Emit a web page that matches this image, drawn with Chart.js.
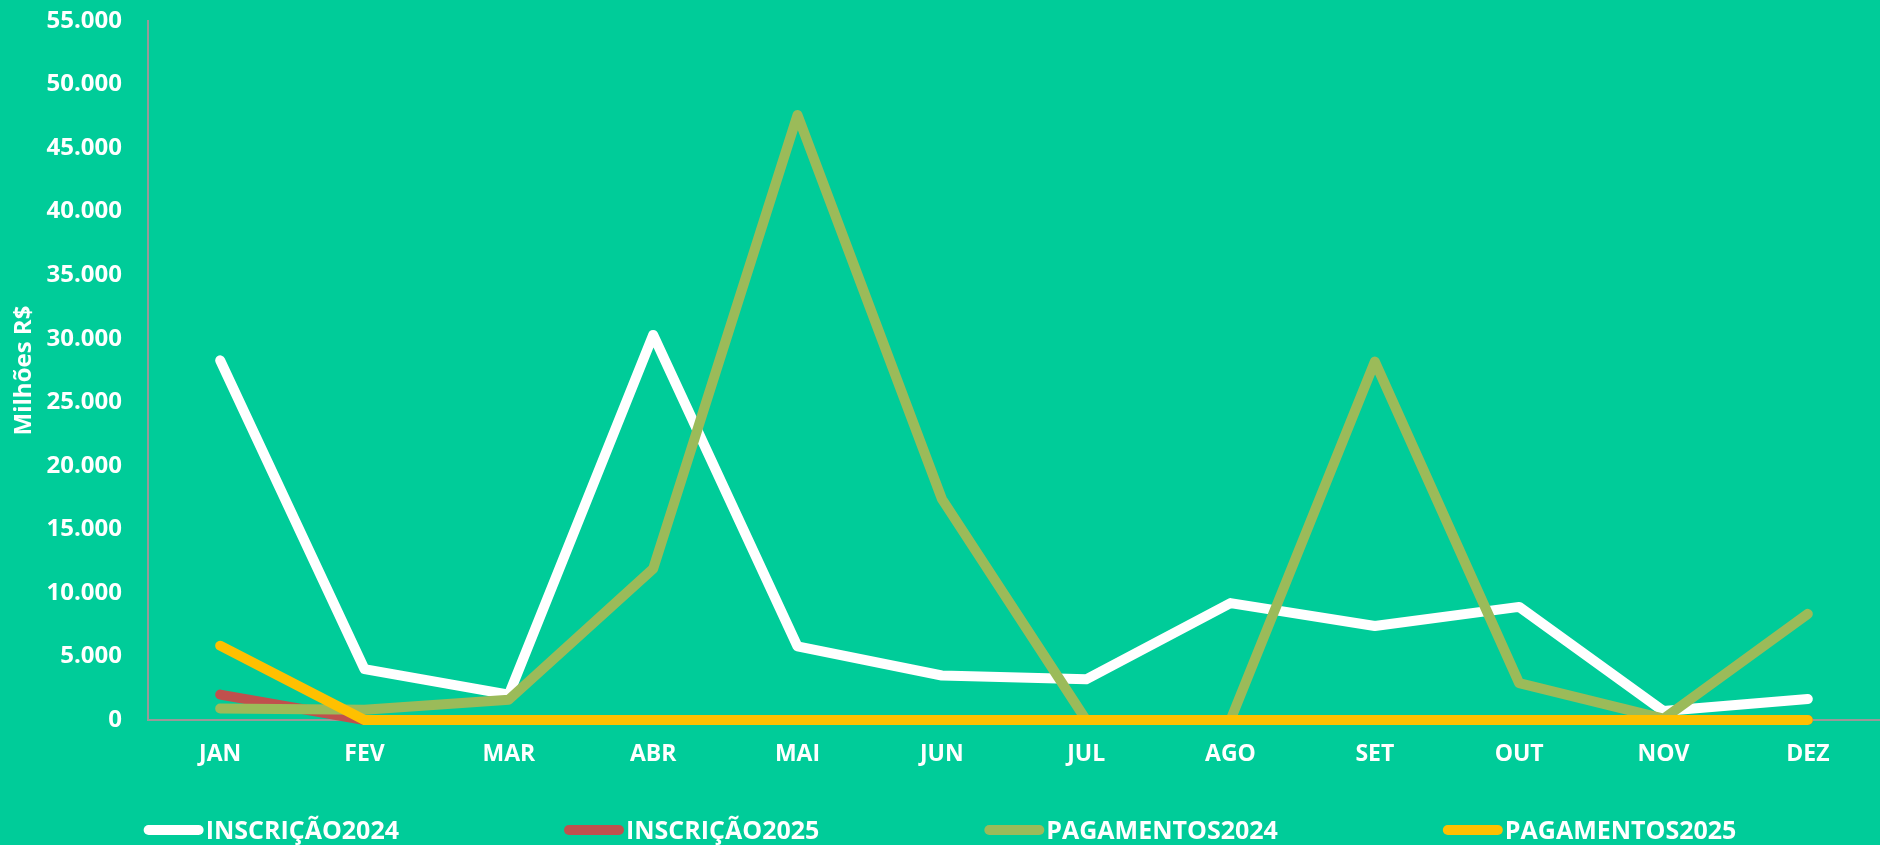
<!DOCTYPE html>
<html><head><meta charset="utf-8">
<script src="https://cdn.jsdelivr.net/npm/chart.js@4/dist/chart.umd.min.js"></script>
<style>html,body{margin:0;padding:0;background:#00CC99;overflow:hidden}</style>
</head><body>
<canvas id="c" width="1880" height="845" style="display:block"></canvas>
<script>
const months = ['JAN','FEV','MAR','ABR','MAI','JUN','JUL','AGO','SET','OUT','NOV','DEZ'];
const seriesNames = ['INSCRIÇÃO2024','INSCRIÇÃO2025','PAGAMENTOS2024','PAGAMENTOS2025'];
const inscricao2024 = [28300, 4000, 2000, 30300, 5800, 3500, 3200, 9200, 7400, 8900, 700, 1650];
const inscricao2025 = [2000, 0, 0, 0, 0, 0, 0, 0, 0, 0, 0, 0];
const pagamentos2024 = [900, 800, 1600, 11900, 47600, 17400, 0, 0, 28200, 2900, 100, 8350];
const pagamentos2025 = [5850, 0, 0, 0, 0, 0, 0, 0, 0, 0, 0, 0];
const yTicksMax = 55000;
const yStep = 5000;

const colors = ['#FFFFFF', '#C0504D', '#9BBB59', '#FFC000'];
const values = [inscricao2024, inscricao2025, pagamentos2024, pagamentos2025];
const FONT = "'Open Sans', sans-serif";

const datasets = values.map((v, i) => ({
  label: seriesNames[i],
  data: v,
  borderColor: colors[i],
  backgroundColor: colors[i],
  borderWidth: 10,
  pointRadius: 0,
  pointHoverRadius: 0,
  tension: 0,
  borderCapStyle: 'round',
  borderJoinStyle: 'round',
  order: 4 - i,
  clip: 8
}));

// Legend drawn from the chart's own dataset labels/colours (line swatch + label, wide spacing)
const bottomLegend = {
  id: 'bottomLegend',
  afterDraw(chart, args, opts) {
    const ctx = chart.ctx;
    const ds = chart.data.datasets;
    ctx.save();
    ctx.font = `bold ${opts.fontSize}px ${FONT}`;
    const widths = ds.map(d => opts.swatch + opts.textGap + ctx.measureText(d.label).width);
    const total = widths.reduce((a, b) => a + b, 0) + opts.gap * (ds.length - 1);
    let x = (chart.width - total) / 2;
    ds.forEach((d, i) => {
      ctx.strokeStyle = d.borderColor;
      ctx.lineWidth = opts.lineWidth;
      ctx.lineCap = 'round';
      ctx.beginPath();
      ctx.moveTo(x + opts.lineWidth / 2, opts.lineY);
      ctx.lineTo(x + opts.swatch - opts.lineWidth / 2, opts.lineY);
      ctx.stroke();
      ctx.fillStyle = opts.color;
      ctx.textBaseline = 'alphabetic';
      ctx.textAlign = 'left';
      ctx.fillText(d.label, x + opts.swatch + opts.textGap, opts.baseline);
      x += widths[i] + opts.gap;
    });
    ctx.restore();
  }
};

new Chart(document.getElementById('c'), {
  type: 'line',
  data: { labels: months, datasets },
  plugins: [bottomLegend],
  options: {
    responsive: false,
    animation: false,
    layout: { padding: { left: 0, right: 0, top: 21, bottom: 76 } },
    plugins: {
      title: { display: false },
      tooltip: { enabled: false },
      legend: { display: false },
      bottomLegend: { fontSize: 25, swatch: 60, textGap: 2, gap: 165, lineWidth: 10, lineY: 830, baseline: 839, color: '#FFFFFF' }
    },
    scales: {
      x: {
        offset: true,
        grid: { display: false, drawTicks: false },
        border: { display: true, color: '#999999', width: 2 },
        ticks: { color: '#FFFFFF', font: { family: FONT, size: 23, weight: 'bold' }, padding: 21, maxRotation: 0 },
        afterFit: s => { s.height = 49; }
      },
      y: {
        min: 0, max: yTicksMax,
        grid: { display: false, drawTicks: false },
        border: { display: true, color: '#999999', width: 2 },
        ticks: {
          stepSize: yStep,
          color: '#FFFFFF',
          padding: 26,
          font: { family: FONT, size: 24, weight: 'bold' },
          callback: v => v.toLocaleString('pt-BR')
        },
        title: {
          display: true, text: 'Milhões R$', color: '#FFFFFF',
          font: { family: FONT, size: 24, weight: 'bold' },
          padding: { top: 10, bottom: 0 }
        },
        afterFit: s => { s.width = 148; s.paddingTop = 0; s.paddingBottom = 0; }
      }
    }
  }
});
</script>
</body></html>
